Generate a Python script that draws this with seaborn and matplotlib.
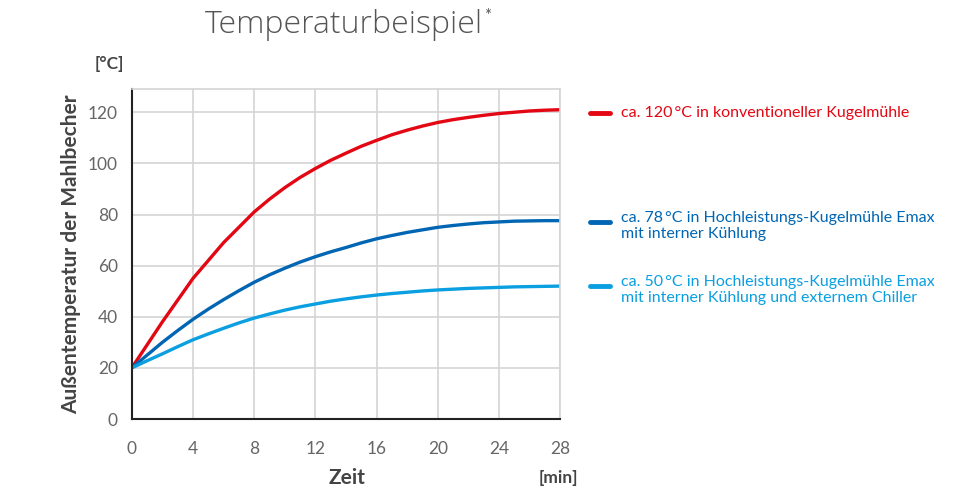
import matplotlib
matplotlib.use("Agg")
import matplotlib.pyplot as plt
import pandas as pd
import seaborn as sns

# time in minutes, every minute
zeit = list(range(0, 29))
konventionell = [20, 29, 38, 46.5, 55, 62, 69, 75, 81, 86, 90.5, 94.5, 98, 101.2, 104,
                 106.7, 109, 111.2, 113, 114.6, 116, 117.1, 118, 118.8, 119.5, 120,
                 120.5, 120.8, 121]
emax_intern = [20, 25, 30, 34.6, 39, 43, 46.7, 50.2, 53.5, 56.4, 59, 61.4, 63.5, 65.4,
               67.1, 68.9, 70.5, 71.8, 73, 74, 75, 75.7, 76.3, 76.8, 77.1, 77.4, 77.5,
               77.6, 77.6]
emax_chiller = [20, 22.8, 25.5, 28.3, 31, 33.3, 35.5, 37.6, 39.5, 41.1, 42.6, 43.9, 45,
                46.1, 47, 47.8, 48.5, 49.1, 49.6, 50.1, 50.5, 50.8, 51.1, 51.3, 51.5,
                51.7, 51.8, 51.9, 52]

serien = [
    "ca. 120\u2009°C in konventioneller Kugelmühle",
    "ca. 78\u2009°C in Hochleistungs-Kugelmühle Emax\nmit interner Kühlung",
    "ca. 50\u2009°C in Hochleistungs-Kugelmühle Emax\nmit interner Kühlung und externem Chiller",
]
farben = ["#E30613", "#0066B3", "#0A9FE0"]
x_ticks = [0, 4, 8, 12, 16, 20, 24, 28]
y_ticks = [0, 20, 40, 60, 80, 100, 120]

df = pd.DataFrame(
    {
        "Zeit": zeit * 3,
        "Temp": konventionell + emax_intern + emax_chiller,
        "Serie": [serien[0]] * len(zeit) + [serien[1]] * len(zeit) + [serien[2]] * len(zeit),
    }
)

sns.set_theme(style="white")
plt.rcParams["font.family"] = ["Lato", "DejaVu Sans"]

fig = plt.figure(figsize=(9.76, 4.93), dpi=100)
ax = fig.add_axes([0.135, 0.150, 0.439, 0.669])

sns.lineplot(
    data=df, x="Zeit", y="Temp", hue="Serie", palette=farben,
    linewidth=2.4, legend=False, ax=ax,
)
ax.set_xlim(0, 28)
ax.set_ylim(0, 129)
ax.set_xticks(x_ticks)
ax.set_yticks(y_ticks)
ax.grid(True, color="#d4d4d4", linewidth=1.2)
ax.set_axisbelow(True)
for side in ["top", "right"]:
    ax.spines[side].set_color("#d4d4d4")
    ax.spines[side].set_linewidth(1.2)
for side in ["left", "bottom"]:
    ax.spines[side].set_color("#222222")
    ax.spines[side].set_linewidth(1.5)
ax.tick_params(axis="both", length=0, labelsize=12.5, colors="#666666")
ax.tick_params(axis="x", pad=16)
ax.tick_params(axis="y", pad=10)
ax.set_xlabel("")
ax.set_ylabel("Außentemperatur der Mahlbecher", fontsize=15, fontweight="bold",
              color="#444444", labelpad=5)

titel = fig.text(0.352, 0.950, "Temperaturbeispiel", ha="center", va="center",
                 fontsize=23, color="#555555", family=["Open Sans", "DejaVu Sans"],
                 fontweight="light")
ax.annotate("*", xy=(1, 0.78), xycoords=titel, xytext=(1, 0), textcoords="offset points",
            ha="left", va="center", fontsize=12, color="#555555",
            annotation_clip=False)
fig.text(0.112, 0.870, "[°C]", ha="center", va="center", fontsize=12.5,
         fontweight="bold", color="#444444")
fig.text(0.356, 0.030, "Zeit", ha="center", va="center", fontsize=15,
         fontweight="bold", color="#444444")
fig.text(0.572, 0.030, "[min]", ha="center", va="center", fontsize=12.5,
         fontweight="bold", color="#444444")

# legend drawn by hand to the right of the axes
leg_y = [0.771, 0.549, 0.419]
for serie, farbe, y in zip(serien, farben, leg_y):
    fig.add_artist(plt.Line2D([0.605, 0.625], [y, y], color=farbe, linewidth=3.5))
    if "\n" in serie:
        fig.text(0.636, y + 0.024, serie, ha="left", va="top", fontsize=11.5,
                 color=farbe, linespacing=1.2)
    else:
        fig.text(0.636, y, serie, ha="left", va="center", fontsize=11.5, color=farbe)

fig.savefig("out.png", dpi=100)
